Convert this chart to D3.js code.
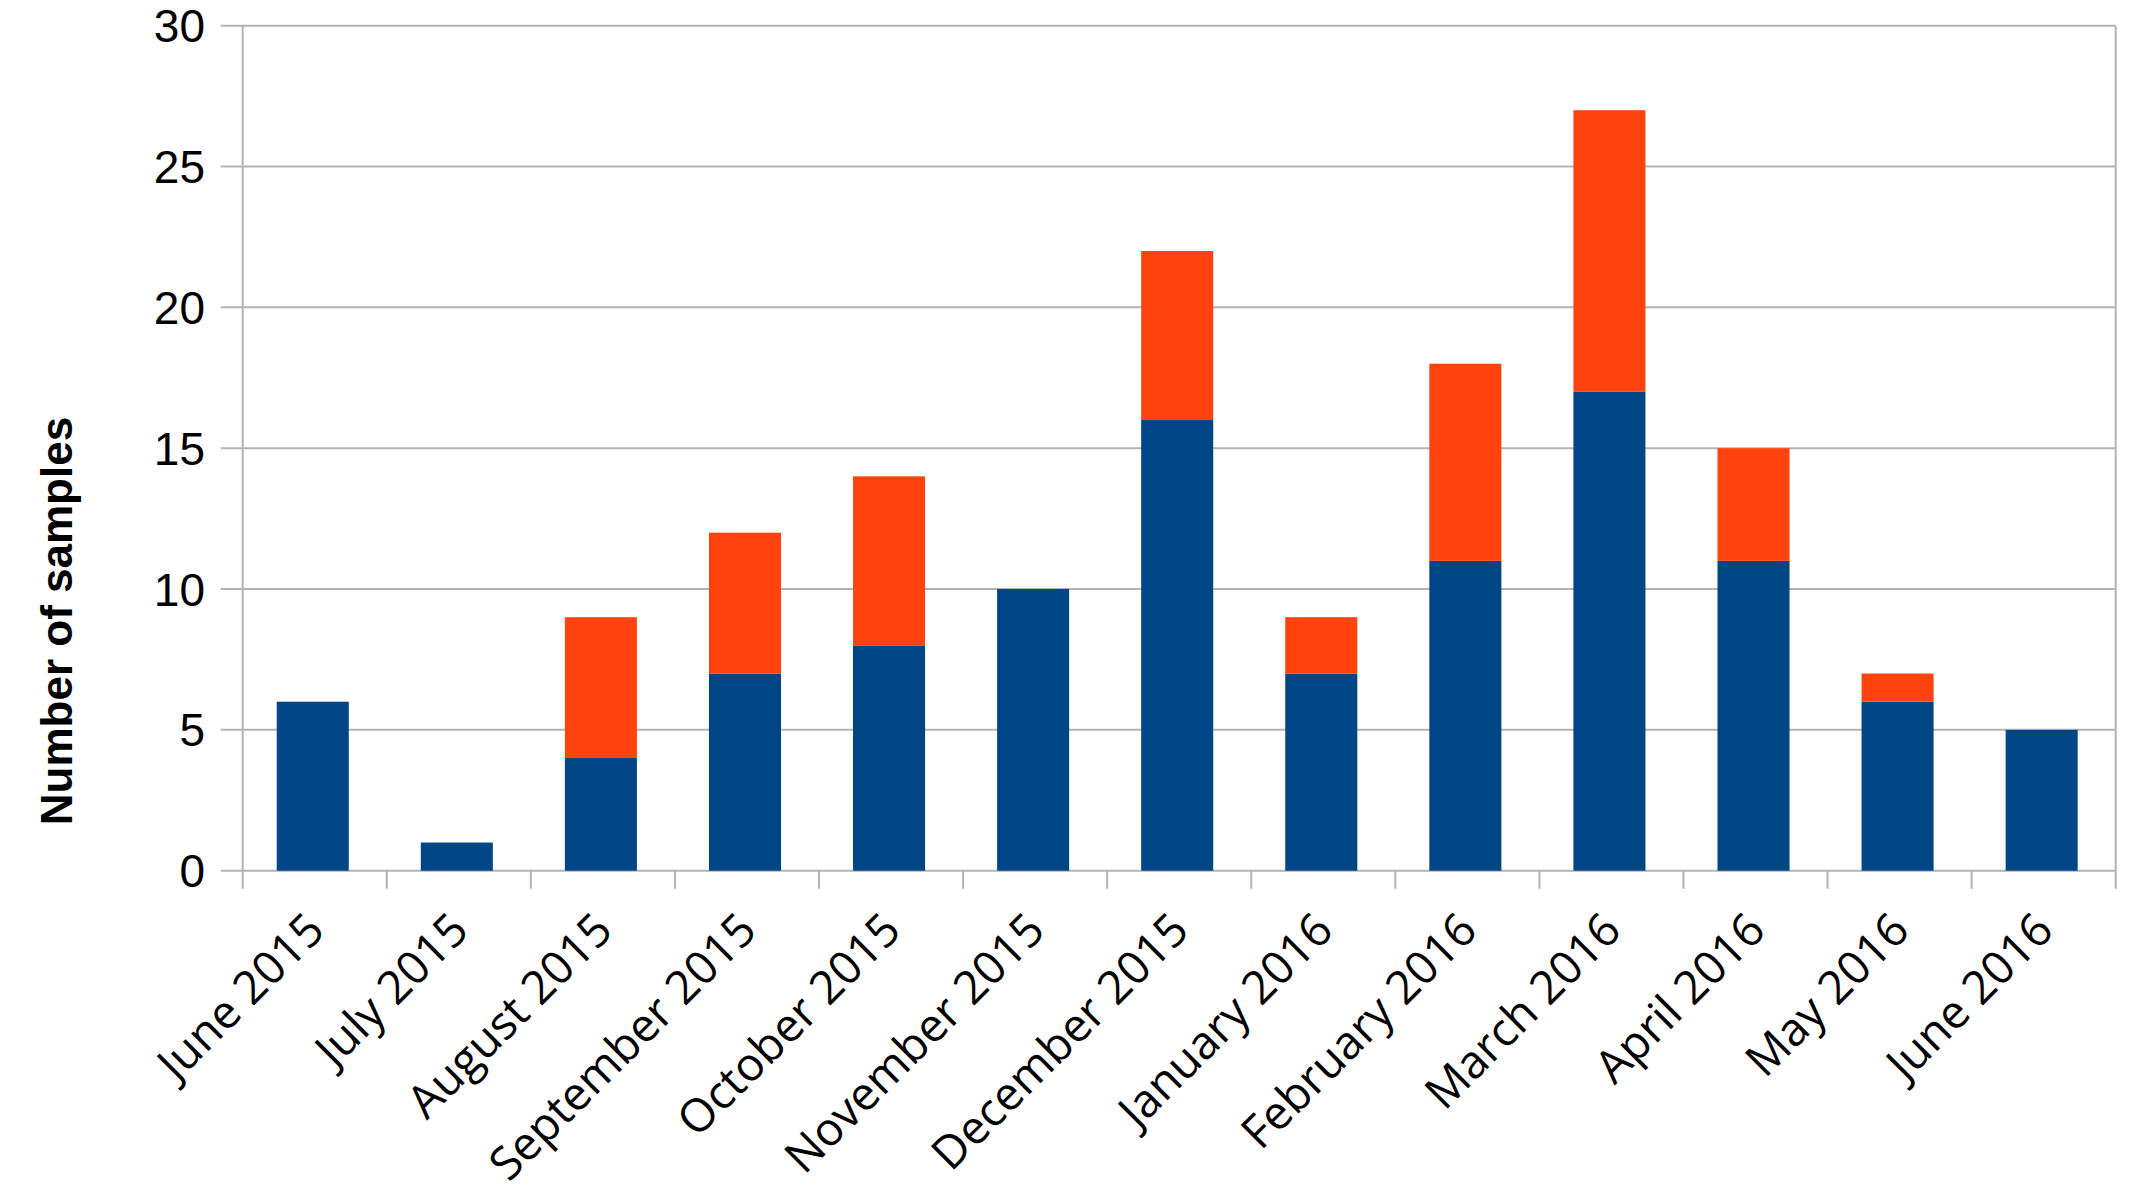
<!DOCTYPE html>
<html>
<head>
<meta charset="utf-8">
<script src="https://cdn.jsdelivr.net/npm/d3@7"></script>
<style>
  html, body { margin: 0; padding: 0; background: #ffffff; }
  svg { display: block; }
</style>
</head>
<body>
<svg id="chart" width="2156" height="1202"></svg>
<script>
const categories = ["June 2015", "July 2015", "August 2015", "September 2015", "October 2015",
  "November 2015", "December 2015", "January 2016", "February 2016", "March 2016",
  "April 2016", "May 2016", "June 2016"];
const seriesBlue = [6, 1, 4, 7, 8, 10, 16, 7, 11, 17, 11, 6, 5];
const seriesOrange = [0, 0, 5, 5, 6, 0, 6, 2, 7, 10, 4, 1, 0];
const yTicks = [0, 5, 10, 15, 20, 25, 30];
const yTitle = "Number of samples";

(function () {
const svg = d3.select("#chart");
const pLeft = 242.7, pRight = 2115.7, pTop = 25.7, pBottom = 870.7;
const gray = "#b3b3b3";

const x = d3.scaleBand().domain(categories).range([pLeft, pRight]).paddingInner(0.5).paddingOuter(0.25);
const y = d3.scaleLinear().domain([0, 30]).range([pBottom, pTop]);

// gridlines with left ticks
svg.append("g").selectAll("line").data(yTicks).join("line")
  .attr("x1", pLeft - 22).attr("x2", pRight)
  .attr("y1", d => y(d)).attr("y2", d => y(d))
  .attr("stroke", gray).attr("stroke-width", 2);

// y tick labels
svg.append("g").selectAll("text").data(yTicks).join("text")
  .attr("x", 205).attr("y", d => y(d)).attr("dy", "0.36em")
  .attr("text-anchor", "end")
  .attr("font-family", "'Liberation Sans', Arial, sans-serif")
  .attr("font-size", 46).attr("fill", "#000")
  .text(d => d);

// stacked data
const stackData = categories.map((c, i) => ({cat: c, blue: seriesBlue[i], orange: seriesOrange[i]}));
const stack = d3.stack().keys(["blue", "orange"])(stackData);
const colors = {blue: "#004586", orange: "#ff420e"};

svg.append("g").selectAll("g").data(stack).join("g")
  .attr("fill", d => colors[d.key])
  .selectAll("rect").data(d => d.filter(s => s[1] > s[0])).join("rect")
  .attr("x", d => x(d.data.cat) - 2)
  .attr("width", x.bandwidth())
  .attr("y", d => y(d[1]))
  .attr("height", d => y(d[0]) - y(d[1]));

// vertical axis line and right border
[pLeft, pRight].forEach(px => {
  svg.append("line").attr("x1", px).attr("x2", px).attr("y1", pTop).attr("y2", pBottom + 18)
    .attr("stroke", gray).attr("stroke-width", 2);
});

// x ticks at band boundaries
const step = x.step();
const boundaries = d3.range(1, categories.length).map(i => pLeft + i * step);
svg.append("g").selectAll("line").data(boundaries).join("line")
  .attr("x1", d => d).attr("x2", d => d)
  .attr("y1", pBottom).attr("y2", pBottom + 18)
  .attr("stroke", gray).attr("stroke-width", 2);

// x labels
svg.append("g").selectAll("text").data(categories).join("text")
  .attr("transform", d => `translate(${x(d) + x.bandwidth() / 2 + 12},${pBottom + 62}) rotate(-45)`)
  .attr("text-anchor", "end")
  .attr("font-family", "'Open Sans', sans-serif")
  .attr("font-size", 46).attr("fill", "#000")
  .text(d => d);

// y title
svg.append("text")
  .attr("transform", `translate(72,621) rotate(-90)`)
  .attr("text-anchor", "middle")
  .attr("font-family", "'Liberation Sans', Arial, sans-serif")
  .attr("font-weight", "bold")
  .attr("font-size", 44).attr("fill", "#000")
  .text(yTitle);
})();
</script>
</body>
</html>
